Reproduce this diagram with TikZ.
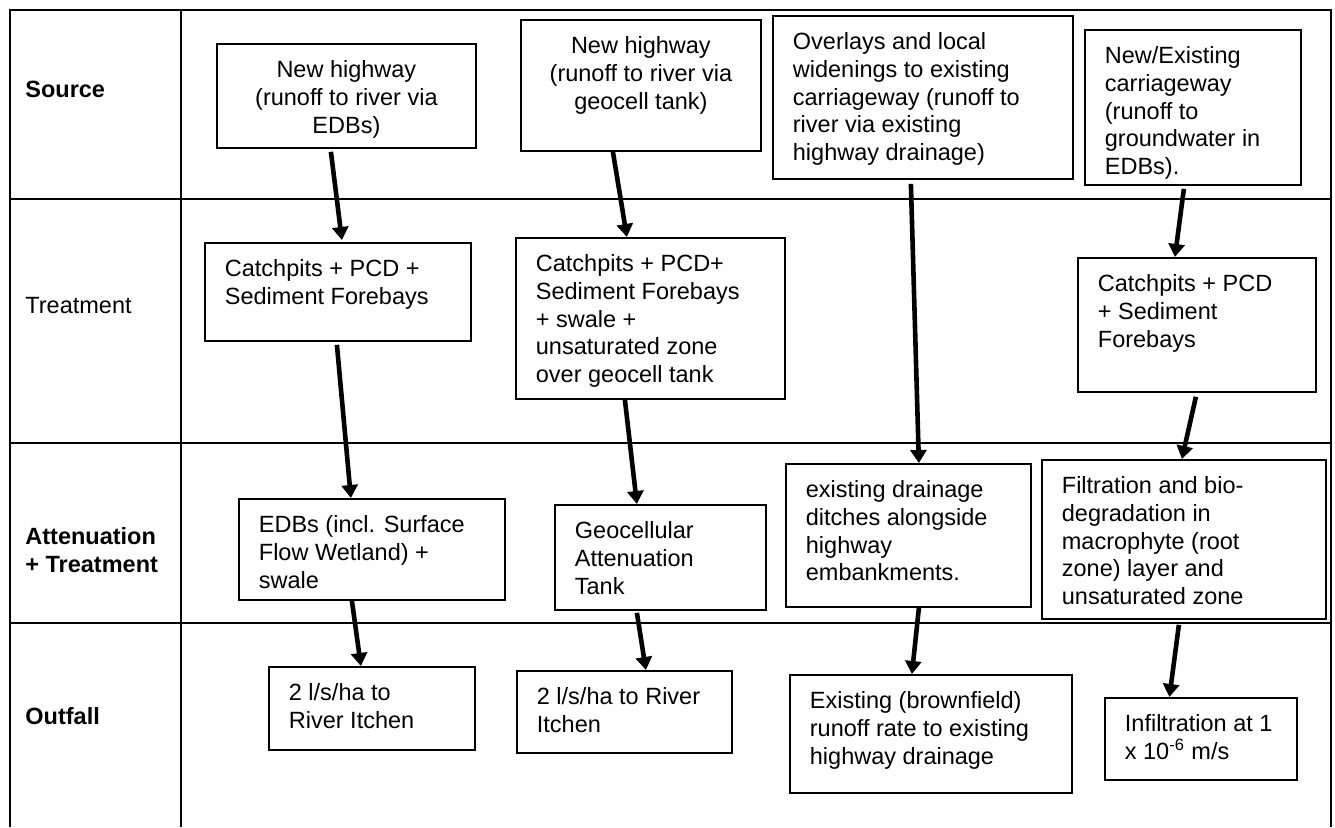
\documentclass[tikz,border=0pt]{standalone}
\usepackage{fontspec}
\setmainfont{Liberation Sans}
\usepackage{tikz}
\usetikzlibrary{arrows.meta}

\newcommand{\cellbox}[3]{\parbox[t][#2][t]{#1}{\raggedright #3}}

\begin{document}
\begin{tikzpicture}[x=0.5pt,y=-0.5pt,font=\fontsize{11.75}{13.8}\selectfont]
      \tikzstyle{frame}=[line width=1.3pt]
      \tikzstyle{stage}=[draw,line width=0.9pt,anchor=north west,inner xsep=10pt,inner ysep=8.5pt]
      \tikzstyle{rowlabel}=[anchor=north west,inner sep=0pt,align=left]
      \tikzstyle{rowhead}=[rowlabel,font=\fontsize{11.75}{13.8}\selectfont\bfseries]
      \tikzstyle{flow}=[line width=2.3pt,-{Triangle[length=6.5pt,width=8pt]}]

      \useasboundingbox (0,0) rectangle (1335,827);

      \draw[frame] (10,827) -- (10,10) -- (1331,10) -- (1331,827);
      \draw[frame] (181,10) -- (181,827);
      \draw[frame] (10,199) -- (1331,199);
      \draw[frame] (10,443) -- (1331,443);
      \draw[frame] (10,623) -- (1331,623);

      \node[rowhead] (lblsource) at (25,81) {Source};
      \node[rowlabel] (lbltreat) at (25,297) {Treatment};
      \node[rowhead] (lblatten) at (25,527) {Attenuation\\+ Treatment};
      \node[rowhead] (lbloutfall) at (25,707) {Outfall};

      \node[stage] (src1) at (216,43) {\cellbox{109.5pt}{35pt}{\centering New highway\\(runoff to river via\\EDBs)}};
      \node[stage] (src2) at (520,19) {\cellbox{100pt}{48.5pt}{\centering New highway\\(runoff to river via\\geocell tank)}};
      \node[stage] (src3) at (772,15) {\cellbox{130pt}{64.5pt}{Overlays and local\\widenings to existing\\carriageway (runoff to\\river via existing\\highway drainage)}};
      \node[stage] (src4) at (1084,29) {\cellbox{88pt}{60.5pt}{New/Existing\\carriageway\\(runoff to\\groundwater in\\EDBs).}};

      \node[stage] (trt1) at (204,242) {\cellbox{113pt}{32pt}{Catchpits + PCD +\\Sediment Forebays}};
      \node[stage] (trt2) at (515,237) {\cellbox{114.5pt}{63.5pt}{Catchpits + PCD+\\Sediment Forebays\\+ swale +\\unsaturated zone\\over geocell tank}};
      \node[stage] (trt4) at (1077,257) {\cellbox{99pt}{50pt}{Catchpits + PCD\\+ Sediment\\Forebays}};

      \node[stage] (att1) at (238,498) {\cellbox{113pt}{33.5pt}{EDBs (incl. Surface\\Flow Wetland) +\\swale}};
      \node[stage] (att2) at (554,504) {\cellbox{85.5pt}{35.5pt}{Geocellular\\Attenuation\\Tank}};
      \node[stage] (att3) at (785,463) {\cellbox{102.5pt}{54.5pt}{existing drainage\\ditches alongside\\highway\\embankments.}};
      \node[stage] (att4) at (1041,459) {\cellbox{122pt}{62.5pt}{Filtration and bio-\\degradation in\\macrophyte (root\\zone) layer and\\unsaturated zone}};

      \node[stage] (out1) at (268,666) {\cellbox{83pt}{24.5pt}{2 l/s/ha to\\River Itchen}};
      \node[stage] (out2) at (516,670) {\cellbox{87.5pt}{24pt}{2 l/s/ha to River\\Itchen}};
      \node[stage] (out3) at (789,674) {\cellbox{121pt}{42pt}{Existing (brownfield)\\runoff rate to existing\\highway drainage}};
      \node[stage] (out4) at (1104,697) {\cellbox{76pt}{24pt}{\mbox{Infiltration at 1}\\x 10\textsuperscript{-6} m/s}};

      \draw[flow] ([xshift=-7.75pt,yshift=-1.5pt]src1.south) -- ([xshift=2pt,yshift=1pt]trt1.north);
      \draw[flow] ([xshift=-0.5pt,yshift=-1.5pt]trt1.south) -- ([xshift=-10.5pt]att1.north);
      \draw[flow] ([xshift=-10pt]att1.south) -- ([xshift=-5.5pt]out1.north);

      \draw[flow] ([xshift=-14pt]src2.south) -- ([xshift=-11.75pt]trt2.north);
      \draw[flow] ([xshift=-12.75pt]trt2.south) -- ([xshift=-11.75pt]att2.north);
      \draw[flow] ([xshift=-11.75pt,yshift=-1pt]att2.south) -- ([xshift=10.75pt]out2.north);

      \draw[flow] ([xshift=-6pt,yshift=-2pt]src3.south) -- ([xshift=5.25pt]att3.north);
      \draw[flow] ([xshift=5.25pt]att3.south) -- ([xshift=-9.5pt]out3.north);

      \draw[flow] ([xshift=-4.5pt,yshift=-1.5pt]src4.south) -- ([xshift=-11pt]trt4.north);
      \draw[flow] ([xshift=-0.5pt,yshift=-2pt]trt4.south) -- ([xshift=-1pt]att4.north);
      \draw[flow] ([xshift=-2.5pt,yshift=-2.5pt]att4.south) -- ([xshift=-15.75pt]out4.north);

    \end{tikzpicture}
\end{document}
